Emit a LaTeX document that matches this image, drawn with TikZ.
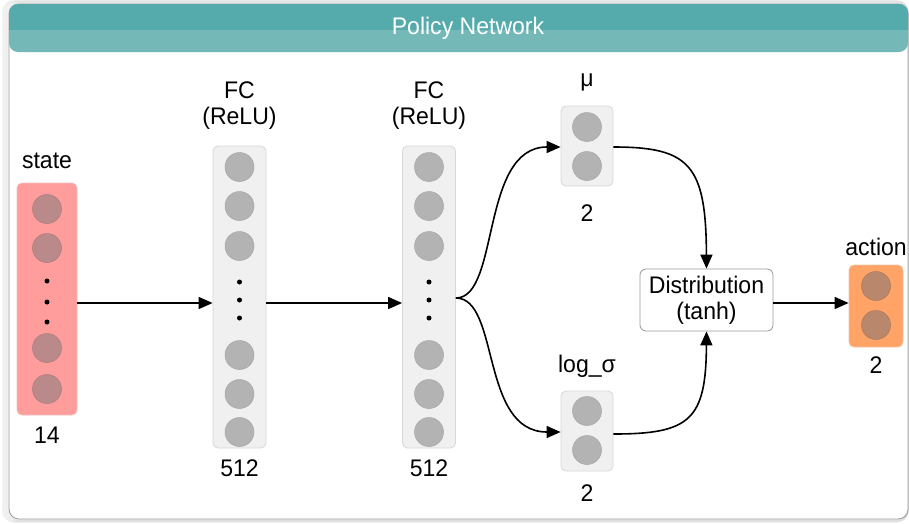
\documentclass[tikz,border=0pt]{standalone}
\usepackage{fontspec}
\setmainfont{Liberation Sans}[FakeStretch=0.96]
\usetikzlibrary{arrows.meta}

\definecolor{headdark}{HTML}{55ABAB}
\definecolor{headlight}{HTML}{74B9B8}
\definecolor{layerfill}{HTML}{F0F0F0}
\definecolor{layerline}{HTML}{D8D8D8}
\definecolor{unitfill}{HTML}{B3B3B3}
\definecolor{unitline}{HTML}{A6A6A6}
\definecolor{statefill}{HTML}{FF9C9C}
\definecolor{stateunit}{HTML}{BA8A8A}
\definecolor{actfill}{HTML}{FFA366}
\definecolor{actunit}{HTML}{B9876B}

\tikzset{
  layer/.style={draw=layerline, fill=layerfill, rounded corners=5pt, line width=0.8pt,
    inner sep=0pt, minimum width=#1},
  layer/.default=53pt,
  unit/.style={circle, fill=unitfill, draw=unitline, line width=0.5pt, inner sep=0pt, minimum size=29pt},
  lbl/.style={font=\fontsize{24}{26}\selectfont, align=center, inner sep=0pt},
  link/.style={line width=1.6pt, -{Triangle[length=14pt,width=12pt]}},
}

\begin{document}
\begin{tikzpicture}[x=1pt,y=-1pt]
\useasboundingbox (0,0) rectangle (909,523);

% soft shadow around the panel
\foreach \i in {1,...,7}
  \draw[black, opacity=0.045, line width=1.2pt, rounded corners=11pt]
    (9-\i*0.9,4-\i*0.5) rectangle (908,519+\i*0.45);

% panel and title bar
\draw[fill=white, draw=gray!80, line width=0.8pt, rounded corners=10pt] (9,4) rectangle (908,519);
\fill[headlight, rounded corners=9pt] (9,4) rectangle (908,52);
\begin{scope}
  \clip (0,0) rectangle (909,29);
  \fill[headdark, rounded corners=9pt] (9,4) rectangle (908,52);
\end{scope}
\node[lbl, text=white] (title) at (468,28) {Policy Network};

% input layer
\node[layer=60pt, minimum height=232pt, draw=statefill!80!gray!60, fill=statefill] (state) at (47,299) {};
\foreach \y/\n in {209/1,248/2,348/3,389/4}
  \node[unit, fill=stateunit, draw=stateunit!90!black] (s\n) at (47,\y) {};
\foreach \y in {281,302,322} \fill (47,\y) circle (2.5);
\node[lbl] (statel) at (47,161) {state};
\node[lbl] (staten) at (47,435) {14};

% hidden layers
\foreach \x/\m in {239.5/a,429/b}{
  \node[layer, minimum height=302pt] (fc\m) at (\x,297) {};
  \foreach \y/\n in {167/1,206/2,246/3,355/4,394/5,432/6}
    \node[unit] (u\m\n) at (\x,\y) {};
  \foreach \y in {282,300,318} \fill (\x,\y) circle (2.5);
  \node[lbl] (fc\m l) at (\x,106) {FC\\(ReLU)};
  \node[lbl] (fc\m n) at (\x,468) {512};
}

% mean and log std heads
\node[layer=52pt, minimum height=80pt] (mu) at (587,146) {};
\node[unit] (mu1) at (587,127) {};
\node[unit] (mu2) at (587,166) {};
\node[lbl] (mul) at (587,82) {μ};
\node[lbl] (mun) at (587,213) {2};

\node[layer=52pt, minimum height=80pt] (ls) at (587,431) {};
\node[unit] (ls1) at (587,411) {};
\node[unit] (ls2) at (587,450) {};
\node[lbl] (lsl) at (587,366) {log\_σ};
\node[lbl] (lsn) at (587,493) {2};

% squashed distribution
\node[draw=gray!80, fill=white, rounded corners=6pt, line width=0.8pt,
      minimum width=133pt, minimum height=62pt, lbl] (dist) at (706.5,300) {Distribution\\(tanh)};

% output layer
\node[layer=54pt, minimum height=82pt, draw=actfill!80!gray!60, fill=actfill] (act) at (876,306) {};
\node[unit, fill=actunit, draw=actunit!90!black] (a1) at (876,286) {};
\node[unit, fill=actunit, draw=actunit!90!black] (a2) at (876,325) {};
\node[lbl] (actl) at (876,247) {action};
\node[lbl] (actn) at (876,365) {2};

% connections
\draw[link] ([yshift=-4pt]state.east) -- ([yshift=-4pt]state.east -| fca.west);
\draw[link] ([yshift=-6pt]fca.east) -- ([yshift=-6pt]fca.east -| fcb.west);
\draw[link] ([yshift=-1pt]fcb.east) .. controls (500,298) and (480,147) .. ([yshift=-1pt]mu.west);
\draw[link] ([yshift=-1pt]fcb.east) .. controls (500,298) and (480,432) .. ([yshift=-1pt]ls.west);
\draw[link] ([yshift=-1pt]mu.east) .. controls (690,147) and (706,165) .. (dist.north);
\draw[link] ([yshift=-3pt]ls.east) .. controls (690,434) and (706,420) .. (dist.south);
\draw[link] ([yshift=-3pt]dist.east) -- ([yshift=-3pt]dist.east -| act.west);
\end{tikzpicture}
\end{document}
